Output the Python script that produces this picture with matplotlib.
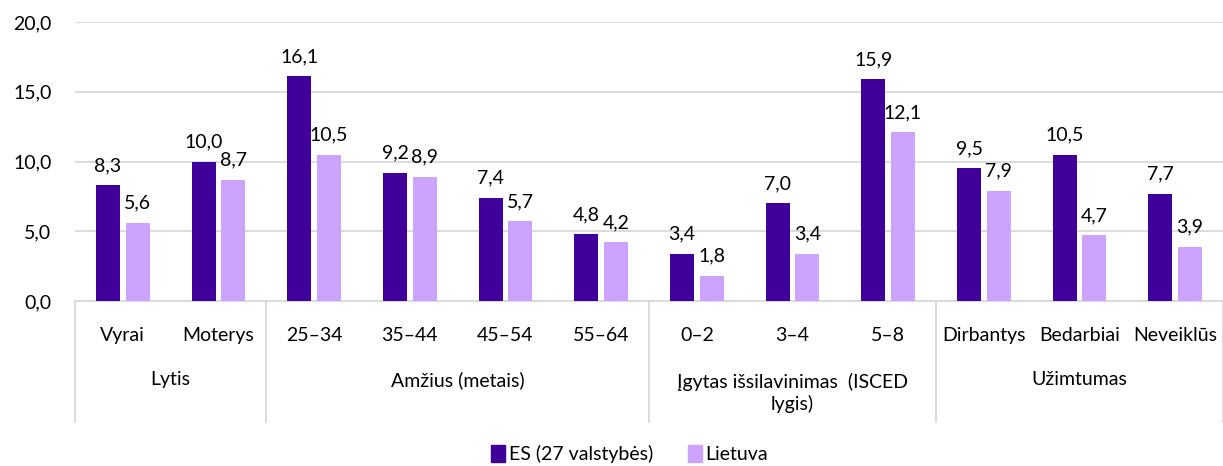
import matplotlib
matplotlib.use('Agg')
from matplotlib import pyplot as plt
from matplotlib.patches import Patch
import matplotlib.transforms as mtrans
import numpy as np

categories = ['Vyrai', 'Moterys', '25–34', '35–44', '45–54', '55–64',
              '0–2', '3–4', '5–8', 'Dirbantys', 'Bedarbiai', 'Neveiklūs']
groups = ['Lytis', 'Amžius (metais)', 'Įgytas išsilavinimas  (ISCED\nlygis)', 'Užimtumas']
groupSizes = [2, 4, 3, 3]
es27 = [8.3, 10.0, 16.1, 9.2, 7.4, 4.8, 3.4, 7.0, 15.9, 9.5, 10.5, 7.7]
lietuva = [5.6, 8.7, 10.5, 8.9, 5.7, 4.2, 1.8, 3.4, 12.1, 7.9, 4.7, 3.9]
seriesNames = ['ES (27 valstybės)', 'Lietuva']
yTicks = [0, 5, 10, 15, 20]

darkColor = '#40009A'
lightColor = '#CCA3FF'
gridColor = '#D9D9D9'
textColor = '#000000'
fs = 14

plt.rcParams['font.family'] = ['Lato', 'DejaVu Sans']


def main():
    fig = plt.figure(figsize=(12.23, 4.66), dpi=100)
    ax = fig.add_axes([75 / 1223, 165 / 466, 1 - 75 / 1223, 279 / 466])

    x = np.arange(len(categories))
    width = 0.25
    off = 0.155
    for vals, dx, col in [(es27, -off, darkColor), (lietuva, off, lightColor)]:
        bars = ax.bar(x + dx, vals, width, color=col, zorder=3)
        for b, v in zip(bars, vals):
            ax.annotate(f'{v:.1f}'.replace('.', ','),
                        (b.get_x() + b.get_width() / 2, v),
                        xytext=(0, 8), textcoords='offset points',
                        ha='center', va='bottom', fontsize=fs, color=textColor)

    ax.set_xlim(-0.5, len(categories) - 0.5)
    ax.set_ylim(0, 20)
    ax.set_yticks(yTicks)
    ax.set_yticklabels([f'{t:.1f}'.replace('.', ',') for t in yTicks], fontsize=fs)
    ax.tick_params(axis='y', length=0, pad=17)
    ax.set_xticks([])
    ax.grid(axis='y', color=gridColor, linewidth=1.3, zorder=0)
    for s in ['top', 'right', 'left']:
        ax.spines[s].set_visible(False)
    ax.spines['bottom'].set_color(gridColor)
    ax.spines['bottom'].set_linewidth(1.3)

    # category axis below the plot
    tr = mtrans.blended_transform_factory(ax.transData, ax.transAxes)
    for xi, cat in zip(x, categories):
        ax.text(xi, -0.122, cat, transform=tr, ha='center', va='center',
                fontsize=fs, color=textColor)

    start = -0.5
    bounds = [start]
    for name, n in zip(groups, groupSizes):
        center = start + n / 2
        ax.text(center, -0.33 if '\n' in name else -0.283, name, transform=tr,
                ha='center', va='center', fontsize=fs, color=textColor,
                linespacing=1.3)
        start += n
        bounds.append(start)
    for bx in bounds:
        ax.plot([bx, bx], [0, -0.434], transform=tr, color=gridColor,
                linewidth=1.3, clip_on=False)

    handles = [Patch(color=darkColor), Patch(color=lightColor)]
    fig.legend(handles, seriesNames, loc='center', bbox_to_anchor=(0.515, 0.026),
               ncol=2, frameon=False, fontsize=fs, handlelength=0.7,
               handleheight=1.0, handletextpad=0.2, columnspacing=1.8)

    fig.savefig('out.png', dpi=100)


if __name__ == '__main__':
    main()
